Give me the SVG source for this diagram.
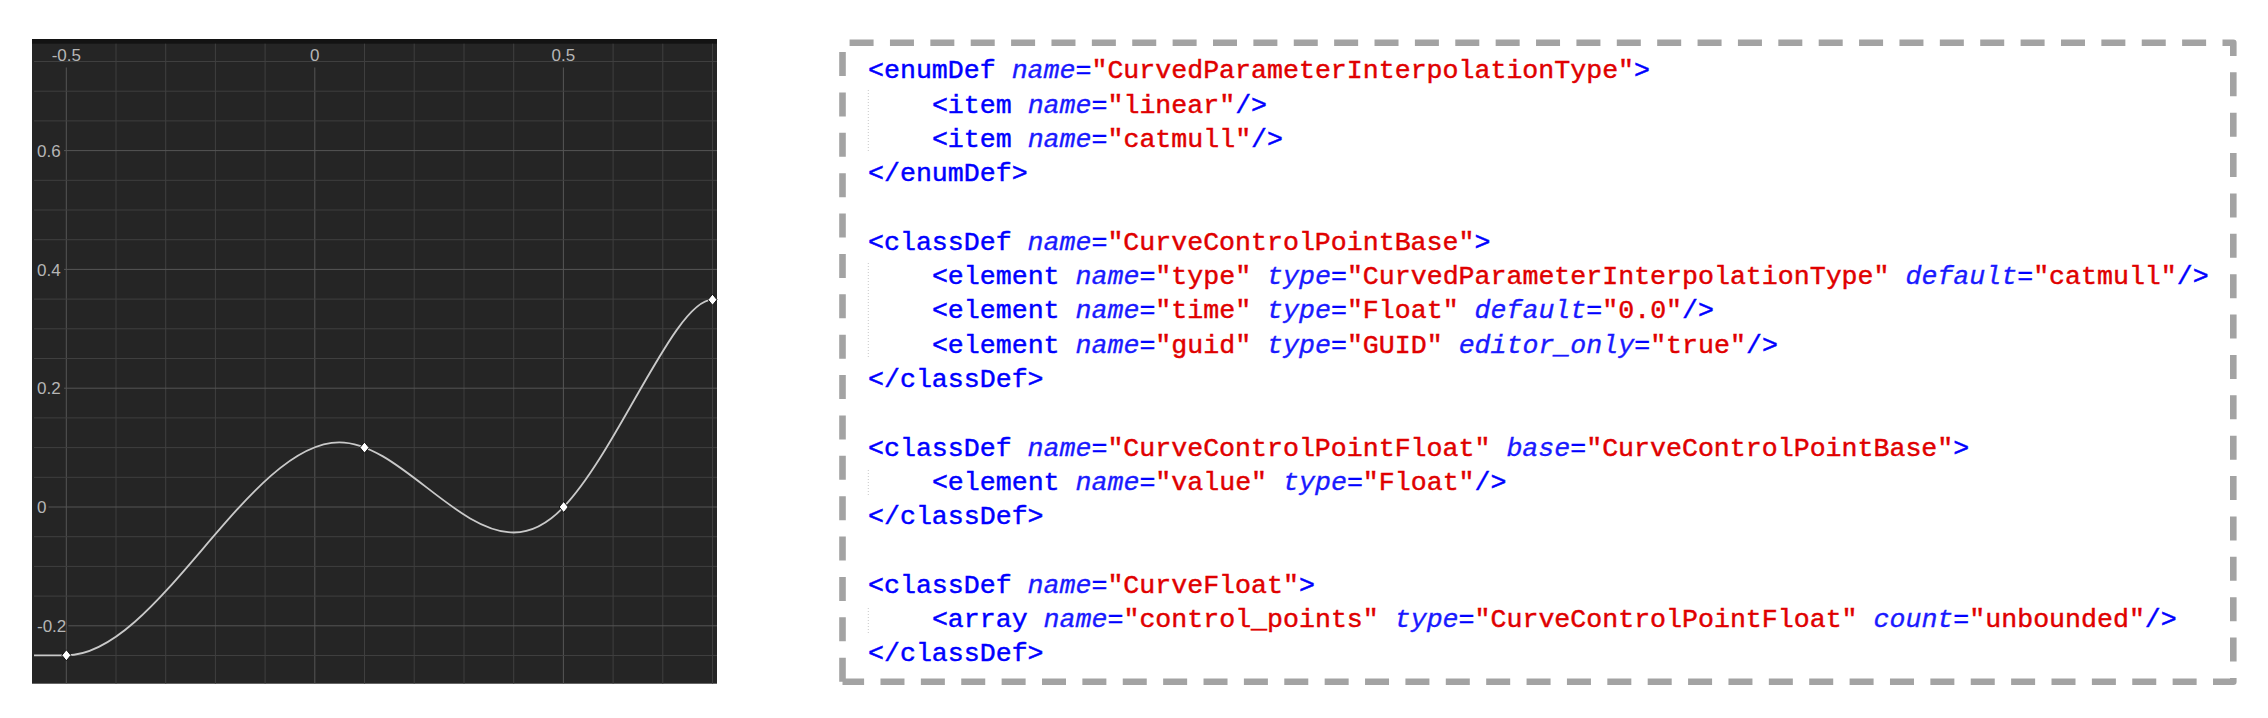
<svg xmlns="http://www.w3.org/2000/svg" width="2268" height="718" viewBox="0 0 2268 718">
<style>
.lab{font-family:"Liberation Sans",Arial,sans-serif;font-size:17px;fill:#b6b6b6}
.gmin{stroke:#3f3f3f;stroke-width:1}
.gmaj{stroke:#555555;stroke-width:1}
.code{font-family:"Liberation Mono","DejaVu Sans Mono",monospace;font-size:26.6px}
.t{fill:#0000ff;stroke:#0000ff;stroke-width:0.45}
.a{fill:#1a1aff;stroke:#1a1aff;stroke-width:0.35;font-style:italic}
.v{fill:#e00000;stroke:#e00000;stroke-width:0.45}
.guide{stroke:#c8c8c8;stroke-width:1;stroke-dasharray:1 2}
</style>
<defs>
<path id="dia" d="M0,-5.5 L4.5,0 L0,5.5 L-4.5,0 Z" fill="#ffffff" stroke="#141414" stroke-width="1"/>
</defs>
<rect width="2268" height="718" fill="#ffffff"/>
<g id="plot">
<rect x="32" y="39" width="685" height="644.7" fill="#252525"/>
<rect x="32" y="39" width="685" height="4.7" fill="#131313"/>
<g id="grid-v">
<line class="gmaj" x1="66.3" y1="67.5" x2="66.3" y2="683.7"/>
<line class="gmin" x1="116" y1="43.7" x2="116" y2="683.7"/>
<line class="gmin" x1="165.7" y1="43.7" x2="165.7" y2="683.7"/>
<line class="gmin" x1="215.4" y1="43.7" x2="215.4" y2="683.7"/>
<line class="gmin" x1="265.1" y1="43.7" x2="265.1" y2="683.7"/>
<line class="gmaj" x1="314.8" y1="67.5" x2="314.8" y2="683.7"/>
<line class="gmin" x1="364.5" y1="43.7" x2="364.5" y2="683.7"/>
<line class="gmin" x1="414.2" y1="43.7" x2="414.2" y2="683.7"/>
<line class="gmin" x1="464" y1="43.7" x2="464" y2="683.7"/>
<line class="gmin" x1="513.7" y1="43.7" x2="513.7" y2="683.7"/>
<line class="gmaj" x1="563.4" y1="67.5" x2="563.4" y2="683.7"/>
<line class="gmin" x1="613.1" y1="43.7" x2="613.1" y2="683.7"/>
<line class="gmin" x1="662.8" y1="43.7" x2="662.8" y2="683.7"/>
<line class="gmin" x1="712.5" y1="43.7" x2="712.5" y2="683.7"/>
</g>
<g id="grid-h">
<line class="gmin" x1="34" y1="61.5" x2="717" y2="61.5"/>
<line class="gmin" x1="34" y1="91.2" x2="717" y2="91.2"/>
<line class="gmin" x1="34" y1="120.9" x2="717" y2="120.9"/>
<line class="gmaj" x1="64" y1="150.6" x2="717" y2="150.6"/>
<line class="gmin" x1="34" y1="180.3" x2="717" y2="180.3"/>
<line class="gmin" x1="34" y1="210" x2="717" y2="210"/>
<line class="gmin" x1="34" y1="239.7" x2="717" y2="239.7"/>
<line class="gmaj" x1="64" y1="269.4" x2="717" y2="269.4"/>
<line class="gmin" x1="34" y1="299.1" x2="717" y2="299.1"/>
<line class="gmin" x1="34" y1="328.8" x2="717" y2="328.8"/>
<line class="gmin" x1="34" y1="358.5" x2="717" y2="358.5"/>
<line class="gmaj" x1="64" y1="388.2" x2="717" y2="388.2"/>
<line class="gmin" x1="34" y1="417.9" x2="717" y2="417.9"/>
<line class="gmin" x1="34" y1="447.6" x2="717" y2="447.6"/>
<line class="gmin" x1="34" y1="477.3" x2="717" y2="477.3"/>
<line class="gmaj" x1="48.5" y1="507" x2="717" y2="507"/>
<line class="gmin" x1="34" y1="536.7" x2="717" y2="536.7"/>
<line class="gmin" x1="34" y1="566.4" x2="717" y2="566.4"/>
<line class="gmin" x1="34" y1="596.1" x2="717" y2="596.1"/>
<line class="gmaj" x1="68.3" y1="625.8" x2="717" y2="625.8"/>
<line class="gmin" x1="34" y1="655.5" x2="717" y2="655.5"/>
</g>
<g id="axis-labels">
<text class="lab" x="66.3" y="61" text-anchor="middle">-0.5</text>
<text class="lab" x="314.8" y="61" text-anchor="middle">0</text>
<text class="lab" x="563.4" y="61" text-anchor="middle">0.5</text>
<text class="lab" x="37" y="156.8">0.6</text>
<text class="lab" x="37" y="275.6">0.4</text>
<text class="lab" x="37" y="394.4">0.2</text>
<text class="lab" x="37" y="513.2">0</text>
<text class="lab" x="37" y="632">-0.2</text>
</g>
<g id="curve">
<path fill="none" stroke="#c9c9c9" stroke-width="1.8" stroke-linejoin="round" d="M34,655.3 L66.4,655.3 C157.4,655.3 248.3,442.3 339.3,442.3 C397.5,442.3 455.6,532.5 513.8,532.5 C530.4,532.5 547.1,524.4 563.7,507 C618.7,449.25 675,299.7 712.5,299.7"/>
</g>
<g id="control-points">
<use href="#dia" x="66.4" y="655.3"/>
<use href="#dia" x="364.5" y="447.6"/>
<use href="#dia" x="563.7" y="507"/>
<use href="#dia" x="712.5" y="299.7"/>
</g>
</g>
<g id="code-panel">
<path d="M842.5,681.7 V42.7 H2233.3 V681.7 H842.5" fill="none" stroke="#a3a3a3" stroke-width="6.6" stroke-dasharray="24 16.38" stroke-linejoin="round"/>
<g id="guides">
<line class="guide" x1="868.3" y1="90" x2="868.3" y2="152"/>
<line class="guide" x1="868.3" y1="263" x2="868.3" y2="358"/>
<line class="guide" x1="868.3" y1="470" x2="868.3" y2="495"/>
<line class="guide" x1="868.3" y1="608" x2="868.3" y2="633"/>
</g>
<g id="code" class="code" xml:space="preserve">
<text x="868" y="78.3"><tspan class="t">&lt;enumDef </tspan><tspan class="a">name</tspan><tspan class="t">=</tspan><tspan class="v">"CurvedParameterInterpolationType"</tspan><tspan class="t">&gt;</tspan></text>
<text x="931.9" y="112.6"><tspan class="t">&lt;item </tspan><tspan class="a">name</tspan><tspan class="t">=</tspan><tspan class="v">"linear"</tspan><tspan class="t">/&gt;</tspan></text>
<text x="931.9" y="146.9"><tspan class="t">&lt;item </tspan><tspan class="a">name</tspan><tspan class="t">=</tspan><tspan class="v">"catmull"</tspan><tspan class="t">/&gt;</tspan></text>
<text x="868" y="181.2"><tspan class="t">&lt;/enumDef&gt;</tspan></text>
<text x="868" y="249.8"><tspan class="t">&lt;classDef </tspan><tspan class="a">name</tspan><tspan class="t">=</tspan><tspan class="v">"CurveControlPointBase"</tspan><tspan class="t">&gt;</tspan></text>
<text x="931.9" y="284.1"><tspan class="t">&lt;element </tspan><tspan class="a">name</tspan><tspan class="t">=</tspan><tspan class="v">"type"</tspan><tspan class="t"> </tspan><tspan class="a">type</tspan><tspan class="t">=</tspan><tspan class="v">"CurvedParameterInterpolationType"</tspan><tspan class="t"> </tspan><tspan class="a">default</tspan><tspan class="t">=</tspan><tspan class="v">"catmull"</tspan><tspan class="t">/&gt;</tspan></text>
<text x="931.9" y="318.4"><tspan class="t">&lt;element </tspan><tspan class="a">name</tspan><tspan class="t">=</tspan><tspan class="v">"time"</tspan><tspan class="t"> </tspan><tspan class="a">type</tspan><tspan class="t">=</tspan><tspan class="v">"Float"</tspan><tspan class="t"> </tspan><tspan class="a">default</tspan><tspan class="t">=</tspan><tspan class="v">"0.0"</tspan><tspan class="t">/&gt;</tspan></text>
<text x="931.9" y="352.7"><tspan class="t">&lt;element </tspan><tspan class="a">name</tspan><tspan class="t">=</tspan><tspan class="v">"guid"</tspan><tspan class="t"> </tspan><tspan class="a">type</tspan><tspan class="t">=</tspan><tspan class="v">"GUID"</tspan><tspan class="t"> </tspan><tspan class="a">editor_only</tspan><tspan class="t">=</tspan><tspan class="v">"true"</tspan><tspan class="t">/&gt;</tspan></text>
<text x="868" y="387"><tspan class="t">&lt;/classDef&gt;</tspan></text>
<text x="868" y="455.6"><tspan class="t">&lt;classDef </tspan><tspan class="a">name</tspan><tspan class="t">=</tspan><tspan class="v">"CurveControlPointFloat"</tspan><tspan class="t"> </tspan><tspan class="a">base</tspan><tspan class="t">=</tspan><tspan class="v">"CurveControlPointBase"</tspan><tspan class="t">&gt;</tspan></text>
<text x="931.9" y="489.9"><tspan class="t">&lt;element </tspan><tspan class="a">name</tspan><tspan class="t">=</tspan><tspan class="v">"value"</tspan><tspan class="t"> </tspan><tspan class="a">type</tspan><tspan class="t">=</tspan><tspan class="v">"Float"</tspan><tspan class="t">/&gt;</tspan></text>
<text x="868" y="524.2"><tspan class="t">&lt;/classDef&gt;</tspan></text>
<text x="868" y="592.8"><tspan class="t">&lt;classDef </tspan><tspan class="a">name</tspan><tspan class="t">=</tspan><tspan class="v">"CurveFloat"</tspan><tspan class="t">&gt;</tspan></text>
<text x="931.9" y="627.1"><tspan class="t">&lt;array   </tspan><tspan class="a">name</tspan><tspan class="t">=</tspan><tspan class="v">"control_points"</tspan><tspan class="t"> </tspan><tspan class="a">type</tspan><tspan class="t">=</tspan><tspan class="v">"CurveControlPointFloat"</tspan><tspan class="t"> </tspan><tspan class="a">count</tspan><tspan class="t">=</tspan><tspan class="v">"unbounded"</tspan><tspan class="t">/&gt;</tspan></text>
<text x="868" y="661.4"><tspan class="t">&lt;/classDef&gt;</tspan></text>
</g>
</g>
</svg>
